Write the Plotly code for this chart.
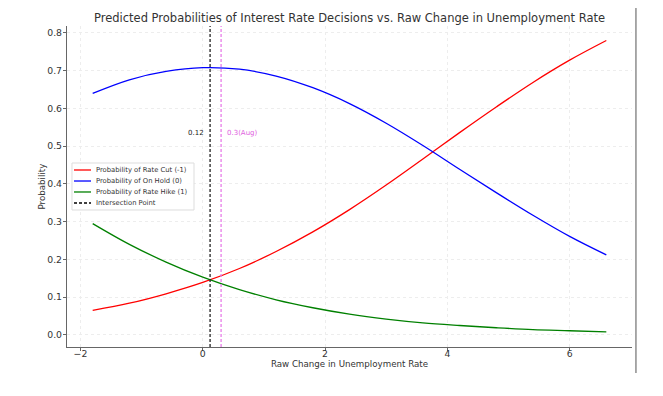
import plotly.graph_objects as go

# Data
x_vals = [-1.8, -1.2, -0.6, 0.0, 0.6, 1.2, 1.8, 2.4, 3.0, 3.6, 4.2, 4.8, 5.4, 6.0, 6.6]
p_cut = [0.065, 0.084, 0.109, 0.139, 0.176, 0.221, 0.273, 0.332, 0.397, 0.466, 0.536, 0.604, 0.669, 0.728, 0.780]
p_hold = [0.640, 0.676, 0.698, 0.708, 0.704, 0.686, 0.655, 0.613, 0.561, 0.502, 0.439, 0.377, 0.317, 0.261, 0.212]
p_hike = [0.295, 0.240, 0.193, 0.153, 0.120, 0.093, 0.072, 0.055, 0.042, 0.032, 0.025, 0.019, 0.014, 0.011, 0.008]
intersection_x = 0.12
aug_x = 0.3
x_ticks = [-2, 0, 2, 4, 6]
y_ticks = [0.0, 0.1, 0.2, 0.3, 0.4, 0.5, 0.6, 0.7, 0.8]
series_names = ["Probability of Rate Cut (-1)", "Probability of On Hold (0)",
                "Probability of Rate Hike (1)", "Intersection Point"]
series_colors = ["red", "blue", "green", "black"]

FONT = "DejaVu Sans"
Y_RANGE = [-0.032, 0.8185]

fig = go.Figure()
for name, col, ys in zip(series_names[:3], series_colors[:3], [p_cut, p_hold, p_hike]):
    fig.add_trace(go.Scatter(x=x_vals, y=ys, mode="lines", name=name,
                             line=dict(color=col, width=1.3, shape="spline")))
fig.add_trace(go.Scatter(x=[intersection_x, intersection_x], y=Y_RANGE, mode="lines",
                         name=series_names[3],
                         line=dict(color="#222222", width=1.3, dash="3px,2px")))
fig.add_trace(go.Scatter(x=[aug_x, aug_x], y=Y_RANGE, mode="lines", showlegend=False,
                         line=dict(color="#e87de8", width=1.3, dash="3px,2px")))

fig.add_annotation(x=intersection_x, y=0.535, text="0.12", showarrow=False, xanchor="right",
                   xshift=-4, font=dict(family=FONT, size=7, color="#222222"))
fig.add_annotation(x=aug_x, y=0.535, text="0.3(Aug)", showarrow=False, xanchor="left",
                   xshift=4, font=dict(family=FONT, size=7, color="#e060e0"))

# Manual compact legend (matplotlib style)
fig.add_shape(type="rect", xref="paper", yref="paper", x0=0.0088, x1=0.2248, y0=0.4268, y1=0.5732,
              line=dict(color="#dddddd", width=1), fillcolor="rgba(255,255,255,0.85)", layer="above")
row_y = [0.5514, 0.5171, 0.4829, 0.4486]
for name, col, yy in zip(series_names, series_colors, row_y):
    dash = "3px,2px" if name == "Intersection Point" else "solid"
    fig.add_shape(type="line", xref="paper", yref="paper", x0=0.0124, x1=0.0425, y0=yy, y1=yy,
                  line=dict(color=col, width=1.3, dash=dash), layer="above")
    fig.add_annotation(xref="paper", yref="paper", x=0.0478, y=yy, text=name, showarrow=False,
                       xanchor="left", yanchor="middle", font=dict(family=FONT, size=6.8, color="#333333"))

# Y-axis title placed as in the reference
fig.add_annotation(xref="paper", yref="paper", x=-0.046, y=0.5, text="Probability", showarrow=False,
                   textangle=-90, xanchor="center", yanchor="middle",
                   font=dict(family=FONT, size=8.7, color="#333333"))

# Vertical frame line on the right edge
fig.add_shape(type="line", xref="paper", yref="paper", x0=1.007, x1=1.007, y0=-0.081, y1=1.056,
              line=dict(color="#555555", width=1))

axis_common = dict(showline=True, linecolor="#666666", linewidth=1.2, ticks="outside", ticklen=3,
                   tickcolor="#666666", tickfont=dict(family=FONT, size=9.3, color="#333333"),
                   showgrid=True, gridcolor="#ededed", griddash="dot", gridwidth=1, zeroline=False,
                   mirror=False)

# page has 8px body margin: figure is 655x388 placed at (8,8)
fig.update_layout(
    width=655, height=388,
    margin=dict(l=59, r=31, t=18, b=49),
    plot_bgcolor="white", paper_bgcolor="white",
    showlegend=False,
    title=dict(text="Predicted Probabilities of Interest Rate Decisions vs. Raw Change in Unemployment Rate",
               x=(59 + 565 / 2) / 655, xanchor="center", y=1 - 10 / 388, yanchor="middle",
               font=dict(family=FONT, size=11.5, color="#333333")),
    xaxis=dict(range=[-2.22, 7.02], tickvals=x_ticks, ticktext=["\u22122", "0", "2", "4", "6"],
               ticklabelstandoff=-5,
               title=dict(text="Raw Change in Unemployment Rate", font=dict(family=FONT, size=8.7, color="#333333"),
                          standoff=2), **axis_common),
    yaxis=dict(range=Y_RANGE, tickvals=y_ticks, tickformat=".1f",
               ticklabelstandoff=-1, **axis_common),
)

fig.write_html("out.html")
